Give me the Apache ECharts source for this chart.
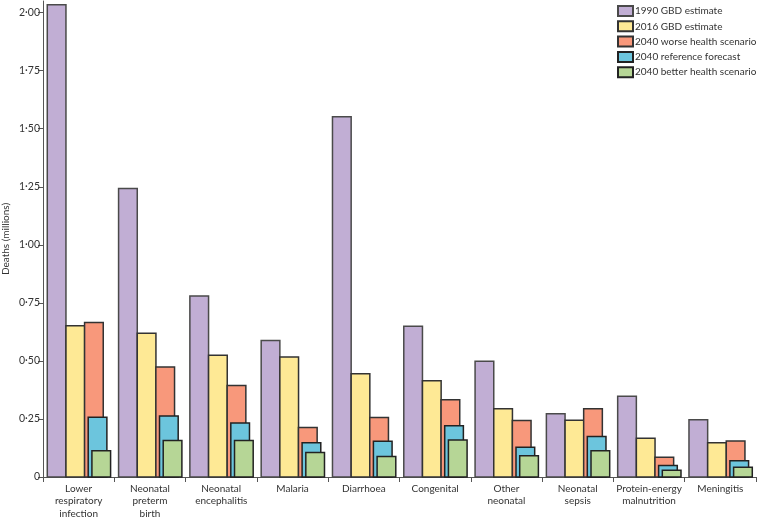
<!DOCTYPE html>
<html><head><meta charset="utf-8">
<script src="https://cdn.jsdelivr.net/npm/echarts@6/dist/echarts.min.js"></script>
<style>html,body{margin:0;padding:0;background:#fff}#c{width:757px;height:519px}</style>
</head><body><div id="c"></div>
<script>
var categories = ['Lower\nrespiratory\ninfection','Neonatal\npreterm\nbirth','Neonatal\nencephalitis','Malaria','Diarrhoea','Congenital','Other\nneonatal','Neonatal\nsepsis','Protein-energy\nmalnutrition','Meningitis'];
var seriesNames = ['1990 GBD estimate','2016 GBD estimate','2040 worse health scenario','2040 reference forecast','2040 better health scenario'];
var gbd1990 = [2.034,1.243,0.779,0.588,1.552,0.649,0.499,0.272,0.348,0.247];
var gbd2016 = [0.651,0.619,0.524,0.517,0.445,0.415,0.294,0.244,0.167,0.148];
var worse2040 = [0.665,0.474,0.394,0.213,0.256,0.333,0.243,0.294,0.085,0.155];
var ref2040 = [0.257,0.263,0.233,0.148,0.154,0.221,0.128,0.174,0.049,0.070];
var better2040 = [0.113,0.157,0.157,0.105,0.088,0.159,0.092,0.113,0.029,0.042];
var yTicks = [0,0.25,0.5,0.75,1,1.25,1.5,1.75,2];

var values = [gbd1990,gbd2016,worse2040,ref2040,better2040];
var colors = ['#c1aed4','#fee995','#f8987b','#6cc5dd','#b6d696'];
var borders = ['#4a4a4a','#333','#333','#222','#222'];
var offsets = [-0.44,-0.178,0.083,0.134,0.186];
var widthFrac = 0.262;
var font = 'Lato, sans-serif';
var fs = 10;

var series = values.map(function(arr, si){
  return {
    name: seriesNames[si],
    type: 'custom',
    itemStyle: {color: colors[si], borderColor: borders[si], borderWidth: 1.5},
    encode: {x: 0, y: 1},
    data: arr.map(function(v, i){ return [i, v]; }),
    z: 2 + si,
    renderItem: function(params, api){
      var top = api.coord([api.value(0), api.value(1)]);
      var base = api.coord([api.value(0), 0]);
      var band = api.size([1, 0])[0];
      return {
        type: 'rect',
        shape: {x: top[0] + offsets[si]*band, y: top[1], width: widthFrac*band, height: base[1]-top[1]},
        style: {fill: colors[si], stroke: borders[si], lineWidth: 1.5}
      };
    }
  };
});

var chart = echarts.init(document.getElementById('c'));
chart.setOption({
  animation: false,
  textStyle: {fontFamily: font},
  grid: {left: 43, right: 1, top: 1, bottom: 42, containLabel: false, outerBoundsMode: 'none'},
  legend: {
    orient: 'vertical', left: 612, top: 0, itemWidth: 15, itemHeight: 10, itemGap: 3.3,
    icon: 'rect', data: seriesNames,
    textStyle: {fontFamily: font, fontSize: 10, color: '#333', padding: [0,0,0,-3]}
  },
  xAxis: {
    type: 'category', data: categories,
    axisLine: {lineStyle: {color: '#555', width: 1}},
    axisTick: {show: true, length: 5, lineStyle: {color: '#555'}, alignWithLabel: false},
    axisLabel: {fontFamily: font, fontSize: fs, color: '#333', lineHeight: 12.7, margin: 5, interval: 0}
  },
  yAxis: {
    type: 'value', min: 0, max: 2.05, interval: 0.25,
    name: 'Deaths (millions)', nameLocation: 'middle', nameGap: 32, nameRotate: 90,
    nameMoveOverlap: false,
    nameTextStyle: {fontFamily: font, fontSize: 10, color: '#333'},
    axisLine: {show: true, lineStyle: {color: '#555', width: 1}},
    axisTick: {show: true, length: 5, lineStyle: {color: '#555'}},
    splitLine: {show: false},
    axisLabel: {
      fontFamily: font, fontSize: 10.5, color: '#333', margin: 3,
      showMaxLabel: false,
      formatter: function(v){
        for (var k = 0; k < yTicks.length; k++) {
          if (Math.abs(v - yTicks[k]) < 1e-9) return v === 0 ? '0' : v.toFixed(2).replace('.', '·');
        }
        return '';
      }
    }
  },
  series: series
});
</script>
</body></html>
